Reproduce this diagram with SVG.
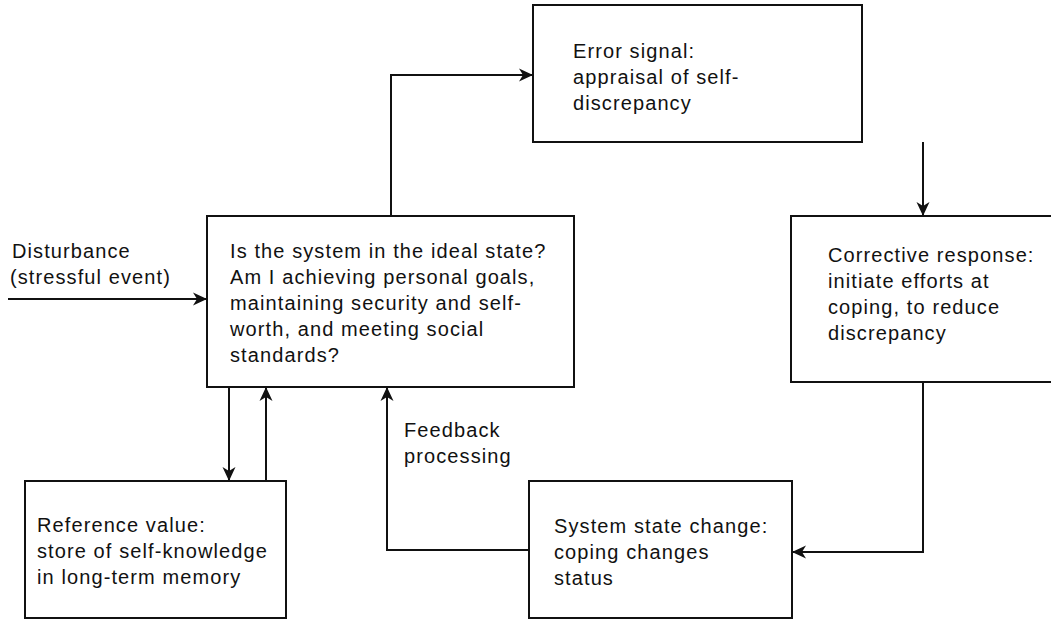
<svg xmlns="http://www.w3.org/2000/svg" width="1051" height="620" viewBox="0 0 1051 620">
<style>
.box{fill:#fff;stroke:#111;stroke-width:2}
.ln{fill:none;stroke:#111;stroke-width:2}
text{font-family:"Liberation Sans",Arial,sans-serif;font-size:20px;letter-spacing:1.1px;fill:#111}
</style>
<defs>
<marker id="ah" markerUnits="userSpaceOnUse" markerWidth="16" markerHeight="16" viewBox="-1 -8 16 16" refX="14" refY="0" orient="auto">
<path d="M0,-6.5 L14,0 L0,6.5 L4,0 Z" fill="#111"/>
</marker>
</defs>
<g id="connectors">
<line class="ln" x1="8" y1="299" x2="207" y2="299" marker-end="url(#ah)"/>
<polyline class="ln" points="391,216 391,75 533,75" marker-end="url(#ah)"/>
<line class="ln" x1="923" y1="142" x2="923" y2="216" marker-end="url(#ah)"/>
<polyline class="ln" points="923,382 923,552 792,552" marker-end="url(#ah)"/>
<polyline class="ln" points="529,550 387,550 387,387" marker-end="url(#ah)"/>
<line class="ln" x1="229" y1="387" x2="229" y2="481" marker-end="url(#ah)"/>
<line class="ln" x1="266" y1="481" x2="266" y2="387" marker-end="url(#ah)"/>
</g>
<g id="disturbance">
<text x="12" y="258">Disturbance</text>
<text x="10" y="284">(stressful event)</text>
</g>
<g id="main">
<rect class="box" x="207" y="216" width="367" height="171"/>
<text x="230" y="258">Is the system in the ideal state?</text>
<text x="230" y="284">Am I achieving personal goals,</text>
<text x="230" y="310">maintaining security and self-</text>
<text x="230" y="336">worth, and meeting social</text>
<text x="230" y="362">standards?</text>
</g>
<g id="error">
<rect class="box" x="533" y="5" width="329" height="137"/>
<text x="573" y="58">Error signal:</text>
<text x="573" y="84">appraisal of self-</text>
<text x="573" y="110">discrepancy</text>
</g>
<g id="corrective">
<rect x="791" y="216" width="262" height="166" fill="#fff"/>
<path class="ln" d="M1053,216 H791 V382 H1053"/>
<text x="828" y="262">Corrective response:</text>
<text x="828" y="288">initiate efforts at</text>
<text x="828" y="314">coping, to reduce</text>
<text x="828" y="340">discrepancy</text>
</g>
<g id="feedback">
<text x="404" y="437">Feedback</text>
<text x="404" y="463">processing</text>
</g>
<g id="systemstate">
<rect class="box" x="529" y="481" width="263" height="137"/>
<text x="554" y="533">System state change:</text>
<text x="554" y="559">coping changes</text>
<text x="554" y="585">status</text>
</g>
<g id="reference">
<rect class="box" x="25" y="481" width="261" height="137"/>
<text x="37" y="532">Reference value:</text>
<text x="37" y="558">store of self-knowledge</text>
<text x="37" y="584">in long-term memory</text>
</g>
</svg>
